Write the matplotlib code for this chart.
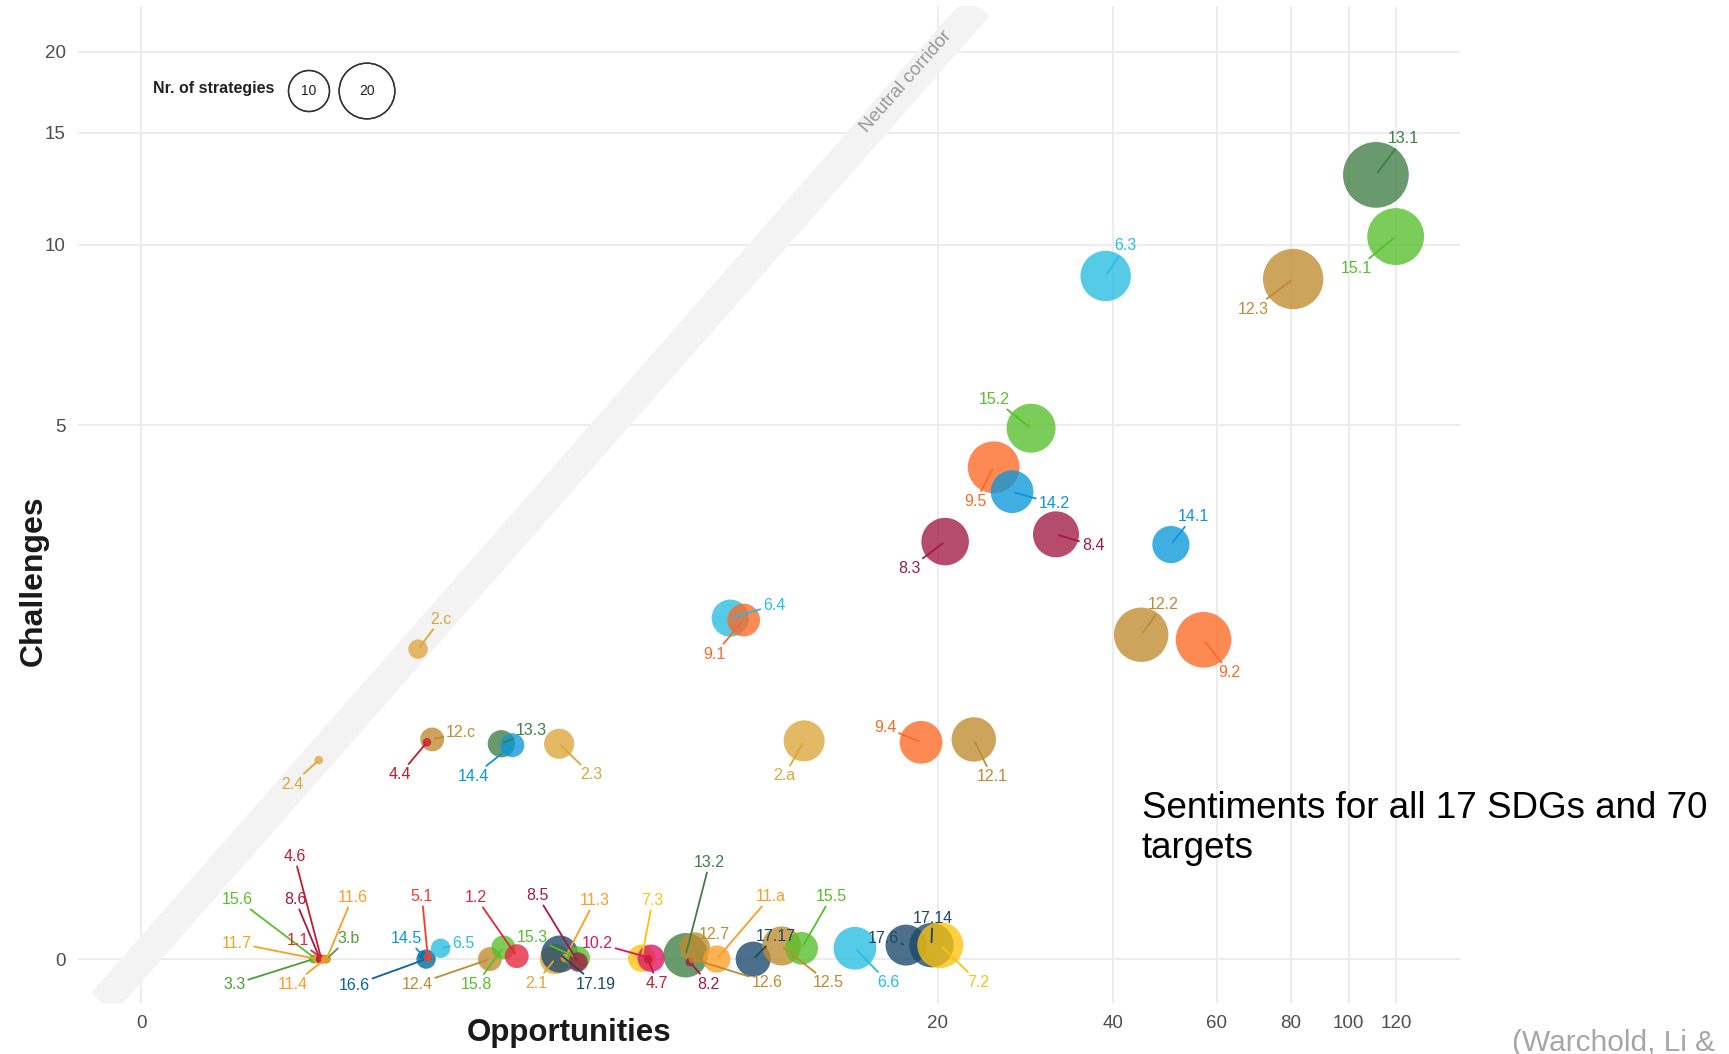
import numpy as np
import matplotlib.pyplot as plt

plt.rcParams['font.family'] = ['Liberation Sans', 'DejaVu Sans']

# %% Data: SDG target, opportunities (x), challenges (y), number of strategies
targets = ['13.1', '15.1', '12.3', '6.3', '15.2', '9.5', '14.2', '8.3', '8.4', '14.1',
           '6.4', '9.1', '12.2', '9.2', '2.c', '2.4', '12.c', '4.4', '13.3', '14.4',
           '2.3', '2.a', '9.4', '12.1',
           '3.3', '15.6', '11.7', '8.6', '4.6', '1.1', '11.4', '3.b', '11.6',
           '14.5', '16.6', '5.1', '6.5', '12.4', '15.8', '1.2',
           '2.1', '17.19', '11.3', '15.3', '8.5', '7.3', '10.2', '4.7',
           '13.2', '12.7', '8.2', '12.6', '11.a', '17.17', '12.5', '15.5',
           '6.6', '17.6', '17.14', '7.2']
opportunities = [111.1, 119.9, 80.7, 38.9, 29.0, 25.0, 26.9, 20.6, 32.0, 50.2,
                 8.5, 9.0, 44.7, 57.0, 1.88, 0.97, 2.04, 1.98, 2.96, 3.13,
                 3.94, 11.6, 18.7, 23.1,
                 0.93, 0.95, 0.96, 0.98, 0.99, 1.0, 1.02, 1.03, 1.03,
                 1.93, 1.97, 1.99, 2.14, 2.79, 2.99, 3.20,
                 3.86, 3.95, 4.05, 4.31, 4.31, 5.77, 6.02, 5.94,
                 7.01, 7.30, 7.14, 7.24, 8.02, 9.37, 10.56, 11.48,
                 14.3, 17.6, 19.5, 20.2]
challenges = [12.9, 10.3, 8.8, 8.9, 4.94, 4.21, 3.80, 3.06, 3.16, 3.02,
              2.14, 2.12, 1.97, 1.92, 1.83, 0.95, 1.09, 1.07, 1.06, 1.05,
              1.06, 1.08, 1.07, 1.09,
              0.0, 0.0, 0.0, 0.0, 0.0, 0.0, 0.0, 0.0, 0.0,
              0.013, 0.0, 0.007, 0.037, 0.0, 0.040, 0.010,
              0.0, 0.017, 0.003, 0.003, -0.01, 0.003, 0.003, 0.0,
              0.013, 0.040, -0.01, 0.0, 0.0, 0.0, 0.045, 0.037,
              0.037, 0.048, 0.048, 0.048]
strategies = [29, 21, 24, 16, 15, 17, 11, 14, 13, 8,
              8, 6, 19, 20, 2, 1, 3, 1, 4, 3,
              5, 10, 11, 12,
              1, 1, 1, 1, 1, 1, 1, 1, 1,
              1, 2, 1, 2, 3, 3, 3,
              5, 8, 1, 3, 2, 4, 4, 1,
              12, 5, 1, 1, 4, 7, 9, 6,
              11, 10, 12, 13]

sdg_colors = {1: '#E5243B', 2: '#DDA63A', 3: '#4C9F38', 4: '#C5192D', 5: '#FF3A21',
              6: '#26BDE2', 7: '#FCC30B', 8: '#A21942', 9: '#FD6925', 10: '#DD1367',
              11: '#FD9D24', 12: '#BF8B2E', 13: '#3F7E44', 14: '#0A97D9', 15: '#56C02B',
              16: '#00689D', 17: '#19486A'}

# %% Layout: label offsets from the point centre, in pixels (repelled labels)
label_offset = {
    '13.1': (27, 36), '15.1': (-39, -32), '12.3': (-40, -30), '6.3': (20, 30),
    '15.2': (-37, 29), '9.5': (-18, -34), '14.2': (42, -12), '8.3': (-36, -27),
    '8.4': (37, -11), '14.1': (22, 28), '6.4': (44, 13), '9.1': (-29, -34),
    '12.2': (22, 30), '9.2': (26, -33), '2.c': (23, 30), '2.4': (-26, -24),
    '12.c': (29, 7), '4.4': (-27, -32), '13.3': (30, 13), '14.4': (-39, -31),
    '2.3': (32, -31), '2.a': (-20, -35), '9.4': (-36, 15), '12.1': (18, -37),
    '3.3': (-79, -25), '15.6': (-79, 60), '11.7': (-81, 16), '8.6': (-25, 60),
    '4.6': (-27, 103), '1.1': (-25, 19), '11.4': (-32, -25), '3.b': (22, 21),
    '11.6': (26, 62), '14.5': (-16, 17), '16.6': (-72, -26), '5.1': (-6, 61),
    '6.5': (23, 5), '12.4': (-73, -25), '15.8': (-27, -37), '1.2': (-41, 59),
    '2.1': (-19, -24), '17.19': (36, -30), '11.3': (30, 58), '15.3': (-46, 21),
    '8.5': (-41, 67), '7.3': (11, 58), '10.2': (-54, 15), '4.7': (9, -24),
    '13.2': (24, 93), '12.7': (19, 13), '8.2': (19, -22), '12.6': (74, -23),
    '11.a': (54, 63), '17.17': (23, 23), '12.5': (47, -37), '15.5': (30, 52),
    '6.6': (33, -34), '17.6': (-23, 7), '17.14': (1, 27), '7.2': (38, -37),
}

DPI = 100
W, H = 1729, 1054


def marker_area(n):
    # radius grows with sqrt of the strategy count (ggplot-like area scale)
    r_px = 4.3 + 5.4 * np.sqrt(np.asarray(n, dtype=float) - 1)
    return (2 * r_px * 72 / DPI) ** 2


# %% Plot
fig = plt.figure(figsize=(W / DPI, H / DPI), dpi=DPI)
ax = fig.add_axes([78 / W, 1 - 1003 / H, (1460 - 78) / W, (1003 - 6) / H])
ax.set_xscale('function', functions=(np.log1p, np.expm1))
ax.set_yscale('function', functions=(np.log1p, np.expm1))
ax.set_xlim(-0.215, 153.6)
ax.set_ylim(-0.137, 23.5)

ax.set_xticks([0, 20, 40, 60, 80, 100, 120])
ax.set_yticks([0, 5, 10, 15, 20])
ax.minorticks_off()
ax.tick_params(length=0, labelsize=13.5, labelcolor='#4d4d4d', pad=9)
for s in ax.spines.values():
    s.set_visible(False)
ax.grid(True, color='#ebebeb', lw=1.3)
ax.set_axisbelow(True)

# neutral corridor along y = x
ax.axline((0, 0), (120, 120), color='#f3f3f3', lw=22, solid_capstyle='butt', zorder=1)
p1 = ax.transData.transform((0, 0))
p2 = ax.transData.transform((120, 120))
angle = np.degrees(np.arctan2(p2[1] - p1[1], p2[0] - p1[0]))
ax.text(17.6, 18.0, 'Neutral corridor', rotation=angle, rotation_mode='anchor',
        ha='center', va='center', fontsize=13.5, color='#999999', zorder=2)

sdg = [int(t.split('.')[0]) for t in targets]
cols = [sdg_colors[g] for g in sdg]
ax.scatter(opportunities, challenges, s=marker_area(strategies), c=cols,
           alpha=0.78, linewidths=0, zorder=3)

for t, x, y, c in zip(targets, opportunities, challenges, cols):
    dx, dy = label_offset[t]
    ax.annotate(t, xy=(x, y), xytext=(dx, dy), textcoords='offset pixels',
                ha='center', va='center', fontsize=11.5, color=c, zorder=4,
                arrowprops=dict(arrowstyle='-', color=c, lw=1.3,
                                shrinkA=0, shrinkB=2))

# size legend
fig.text(153 / W, 1 - 88 / H, 'Nr. of strategies', fontsize=11.5, fontweight='bold',
         color='#222222', ha='left', va='center')
leg_n = [10, 20]
leg_x = [309 / W, 367 / W]
leg_y = [1 - 91 / H, 1 - 91 / H]
fig.add_artist(plt.scatter(leg_x, leg_y, s=marker_area(leg_n), facecolors='none',
                           edgecolors='#333333', linewidths=1,
                           transform=fig.transFigure, clip_on=False))
for n, x, y in zip(leg_n, leg_x, leg_y):
    fig.text(x, y, str(n), fontsize=10, color='#222222', ha='center', va='center')

# axis titles
fig.text(569 / W, 1 - 1041 / H, 'Opportunities', fontsize=22.5, fontweight='bold',
         color='#1a1a1a', ha='center', va='baseline')
fig.text(34 / W, 1 - 581 / H, 'Challenges', fontsize=23, fontweight='bold',
         color='#1a1a1a', ha='center', va='center', rotation=90)

# slide annotations
fig.text(1142 / W, 1 - 858 / H, 'Sentiments for all 17 SDGs and 70\ntargets',
         fontsize=26.5, color='black', ha='left', va='baseline', linespacing=1.17)
fig.text(1512 / W, 1 - 1051 / H, '(Warchold, Li &', fontsize=21.5, color='#a6a6a6',
         ha='left', va='baseline')

fig.savefig('out.png', dpi=DPI)
